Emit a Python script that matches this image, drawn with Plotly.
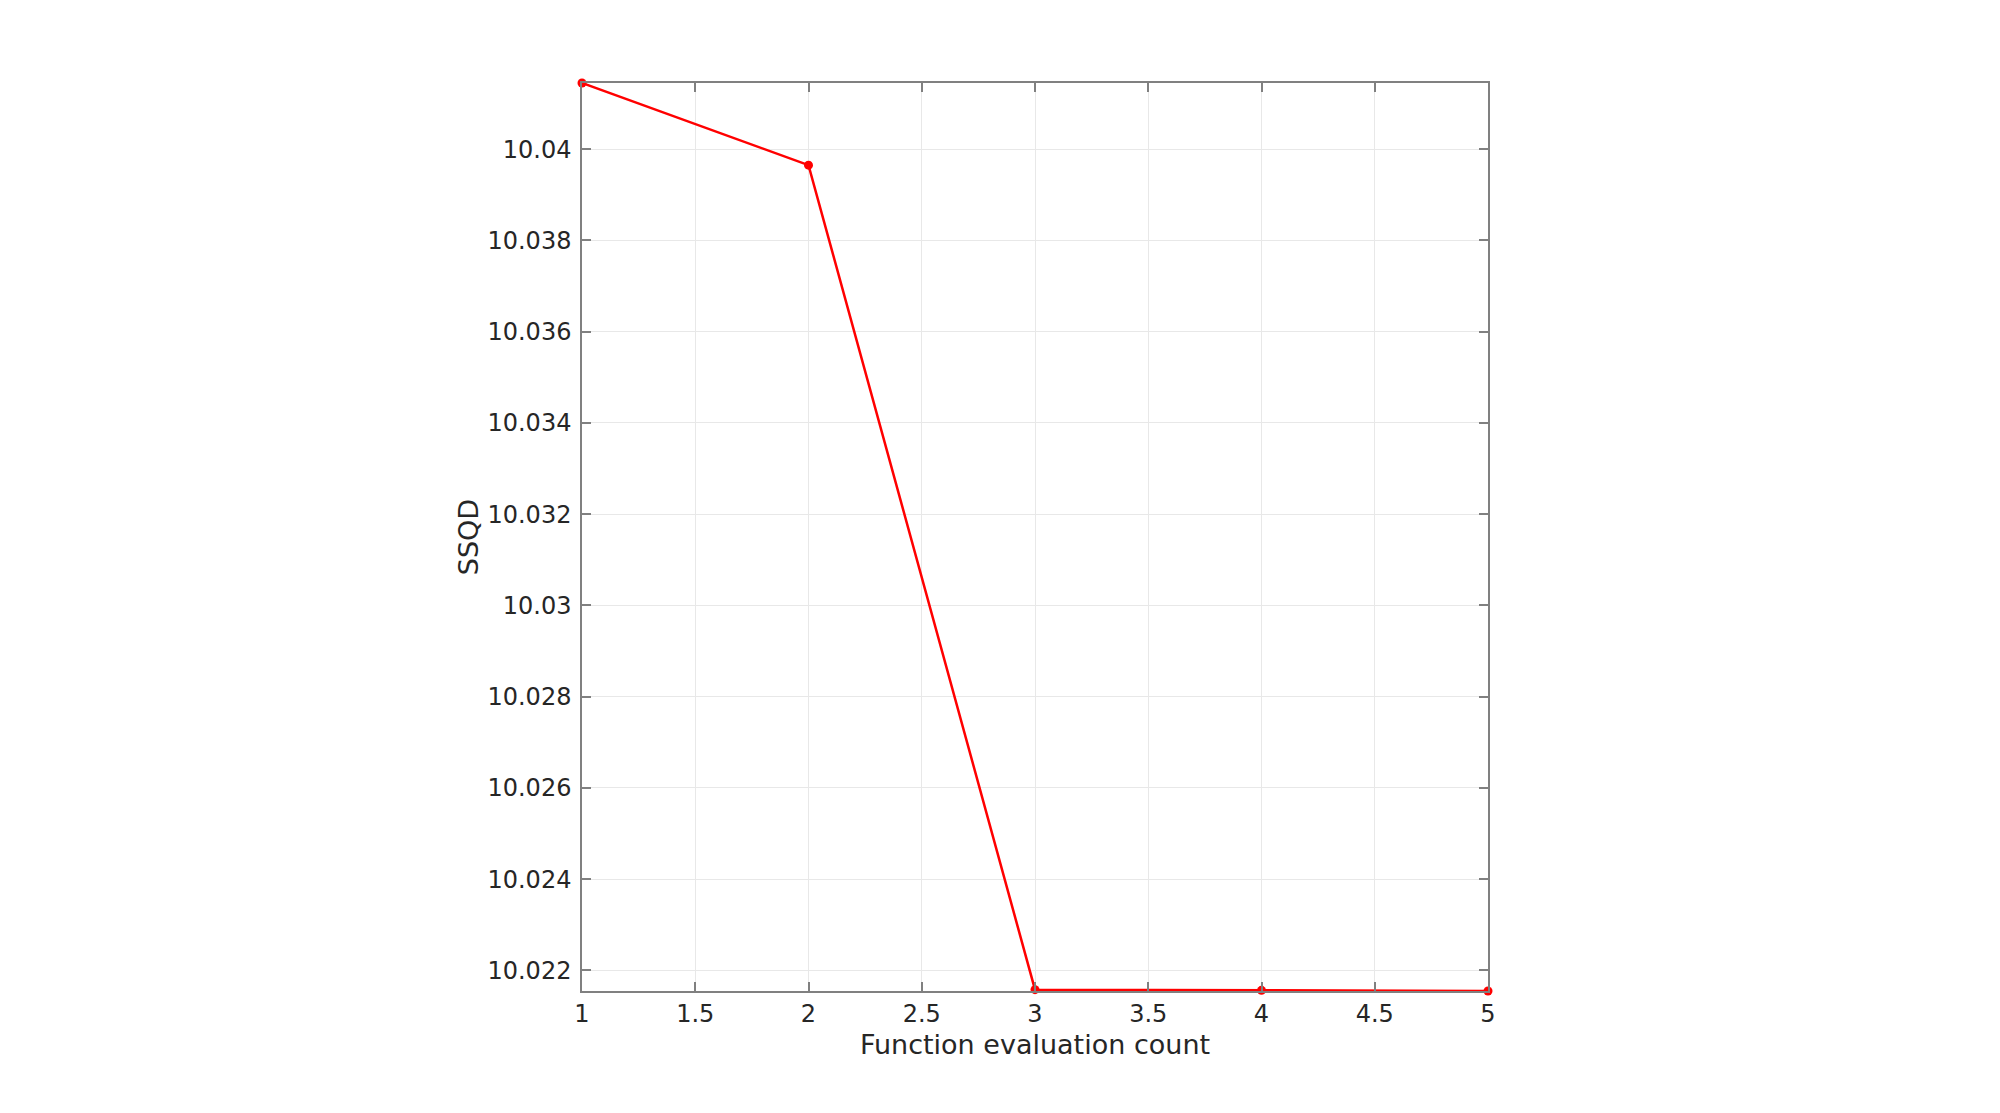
import plotly.graph_objects as go

evals = [1, 2, 3, 4, 5]
ssqd = [10.04145, 10.03965, 10.02158, 10.021565, 10.02155]

x_ticks = [1, 1.5, 2, 2.5, 3, 3.5, 4, 4.5, 5]
x_labels = ["1", "1.5", "2", "2.5", "3", "3.5", "4", "4.5", "5"]
y_ticks = [10.022, 10.024, 10.026, 10.028, 10.03, 10.032, 10.034, 10.036, 10.038, 10.04]
y_labels = ["10.022", "10.024", "10.026", "10.028", "10.03", "10.032", "10.034", "10.036", "10.038", "10.04"]

fig = go.Figure()
fig.add_trace(go.Scatter(
    x=evals, y=ssqd, mode="lines+markers",
    line=dict(color="#ff0000", width=2.5),
    marker=dict(color="#ff0000", size=9),
    cliponaxis=False, showlegend=False,
))

font = dict(family="DejaVu Sans", size=24, color="#262626")
title_font = dict(family="DejaVu Sans", size=27, color="#262626")
axis_common = dict(
    showline=True, linecolor="#808080", linewidth=1.5, mirror="ticks",
    ticks="inside", ticklen=9, tickcolor="#808080", tickwidth=1.5,
    showgrid=True, gridcolor="#e8e8e8", gridwidth=1,
    zeroline=False, tickfont=font,
)

fig.update_layout(
    width=2000, height=1113,
    paper_bgcolor="white", plot_bgcolor="white",
    margin=dict(l=574, r=520, t=75, b=130, autoexpand=False),
    xaxis=dict(range=[1, 5], tickvals=x_ticks, ticktext=x_labels, ticklabelstandoff=0,
               title=dict(text="Function evaluation count", font=title_font, standoff=9),
               **axis_common),
    yaxis=dict(range=[min(ssqd), max(ssqd)], tickvals=y_ticks, ticktext=y_labels, ticklabelstandoff=4,
               title=dict(text="SSQD", font=title_font, standoff=1),
               **axis_common),
)

fig.write_html("out.html")
